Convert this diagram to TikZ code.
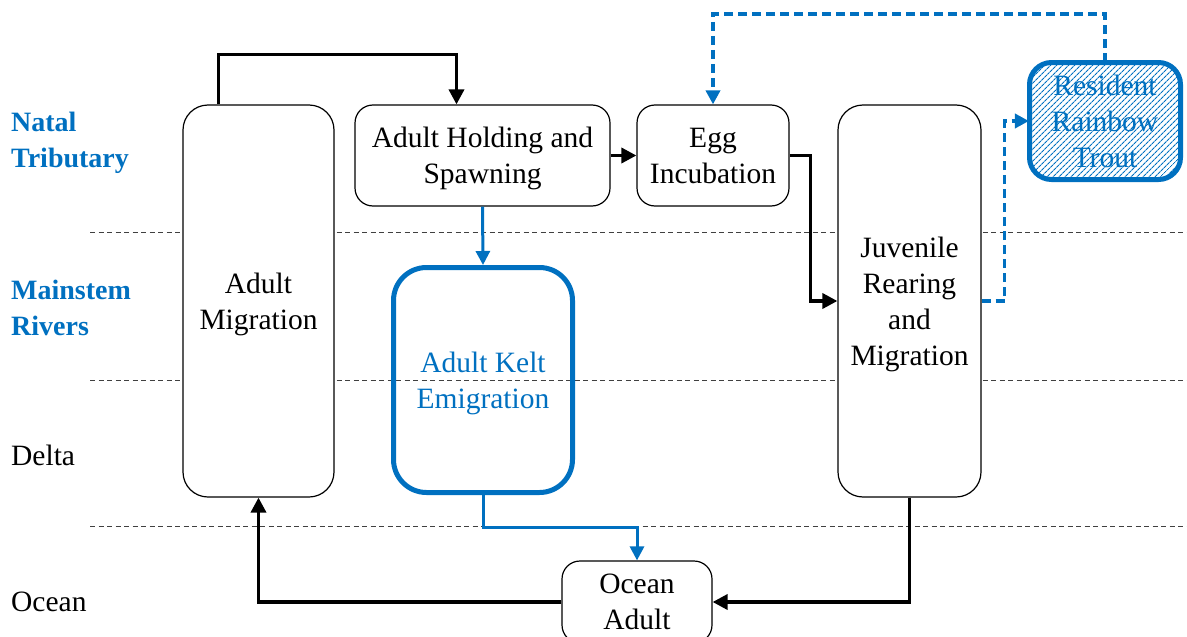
\documentclass[tikz,border=0pt]{standalone}
\usepackage{fontspec}
\setmainfont{Liberation Serif}
\usetikzlibrary{arrows.meta,patterns.meta}
\definecolor{riverblue}{HTML}{0070C0}
\begin{document}
\begin{tikzpicture}[x=1pt,y=-1pt,
  every node/.style={font=\fontsize{29.5}{36}\selectfont, align=center, inner sep=0pt},
  stage/.style={draw=black, line width=1.2pt, rounded corners=18pt, fill=white, text depth=0pt},
  bigstage/.style={stage, rounded corners=25pt},
  keltbox/.style={draw=riverblue, line width=5pt, rounded corners=33pt, text=riverblue, text depth=0pt},
  residentbox/.style={draw=riverblue, line width=5pt, rounded corners=22pt, text=riverblue, text depth=0pt,
    pattern={Lines[angle=45,distance=4pt,line width=1.1pt]}, pattern color=riverblue},
  zone/.style={draw=black!75, line width=1pt, dash pattern=on 5pt off 3.5pt},
  zonelabel/.style={anchor=west, align=left},
  flow/.style={draw=black, line width=3.5pt, -{Triangle[length=15pt,width=15pt]}},
  kelt/.style={draw=riverblue, line width=3pt, -{Triangle[length=14pt,width=14pt]}},
  resident/.style={draw=riverblue, line width=3.5pt, dash pattern=on 9pt off 5pt,
    -{Triangle[length=14pt,width=14pt]}}]
\useasboundingbox (0,0) rectangle (1187,637);
\clip (0,0) rectangle (1187,637);

% habitat zones
\draw[zone] (90,232) -- (1187,232);
\draw[zone] (90,380) -- (1187,380);
\draw[zone] (90,526) -- (1187,526);

\node[zonelabel, text=riverblue, font=\fontsize{28}{36}\selectfont\bfseries] (natal) at (11,143) {Natal\\Tributary};
\node[zonelabel, text=riverblue, font=\fontsize{28}{36}\selectfont\bfseries] (main) at (11,308) {Mainstem\\Rivers};
\node[zonelabel] (delta) at (11,455) {Delta};
\node[zonelabel] (oceanlbl) at (11,602) {Ocean};

% life stages
\node[bigstage, minimum width=151pt, minimum height=392pt] (mig) at (258.5,301) {Adult\\Migration};
\node[stage, minimum width=255pt, minimum height=101pt] (hold) at (482.5,155.5) {Adult Holding and\\Spawning};
\node[stage, minimum width=152pt, minimum height=101pt] (egg) at (713,155.5) {Egg\\Incubation};
\node[bigstage, minimum width=143pt, minimum height=392pt] (juv) at (909.5,301) {Juvenile\\Rearing\\and\\Migration};
\node[keltbox, minimum width=179pt, minimum height=225pt] (keltn) at (483,380) {Adult Kelt\\Emigration};
\node[residentbox, minimum width=151pt, minimum height=117pt] (res) at (1105,121) {Resident\\Rainbow\\Trout};
\node[stage, minimum width=150pt, minimum height=82pt] (ocean) at (637,602) {Ocean\\Adult};

% anadromous cycle
\draw[flow] ([xshift=-40pt]mig.north) -- ++(0,-50) -| ([xshift=-26pt]hold.north);
\draw[flow] (hold.east) -- (egg.west);
\draw[flow] (egg.east) -- ++(21,0) |- (juv.west);
\draw[flow] (juv.south) |- (ocean.east);
\draw[flow] (ocean.west) -| (mig.south);

% kelt pathway
\draw[kelt] (hold.south) -- (keltn.north);
\draw[kelt] (keltn.south) -- ++(0,32) -| (ocean.north);

% resident pathway
\draw[resident] (juv.east) -- ++(23,0) |- (res.west);
\draw[resident] (res.north) -- ++(0,-48) -| (egg.north);
\end{tikzpicture}
\end{document}
